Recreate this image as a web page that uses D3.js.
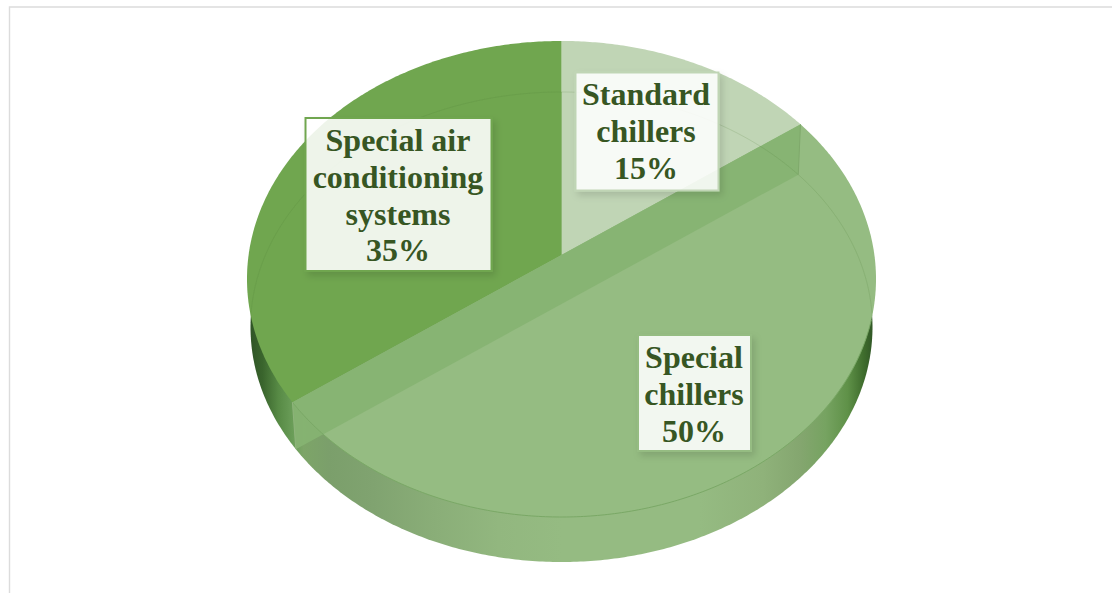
<!DOCTYPE html>
<html>
<head>
<meta charset="utf-8">
<script src="https://cdn.jsdelivr.net/npm/d3@7"></script>
<style>
html,body{margin:0;padding:0;background:#fff;overflow:hidden}
svg{display:block}
</style>
</head>
<body>
<svg id="chart" width="1112" height="593"></svg>
<script>
// ---- data ----
const categories = ["Standard chillers", "Special chillers", "Special air conditioning systems"];
const shares = [15, 50, 35];
const labelLines = [["Standard", "chillers"], ["Special", "chillers"], ["Special air", "conditioning", "systems"]];

// ---- styles and layout ----
const faceColors = ["#c0d5b5", "#95bc82", "#70a64f"];
const labelBoxes = [
  {x: 575.5, y: 72.5, w: 143, h: 118, cx: 646, base: 105},
  {x: 638, y: 335, w: 113, h: 116, cx: 694, base: 368},
  {x: 305.5, y: 118, w: 186, h: 153, cx: 398, base: 151}
];
const lineGap = 36.8;
const cx = 561.5;
// perspective projection of the pie's top and bottom discs
const topDisc = {A: 312.9, B: 209.9, C: 255, k: -0.1008};
const botDisc = {A: 309.5, B: 203, C: 304, k: -0.0979};

function project(d, a, r = 1) {
  const u = Math.sin(a) * r, v = -Math.cos(a) * r;
  const w = 1 + d.k * v;
  return [cx + d.A * u / w, (d.C + d.B * v) / w];
}
const line = d3.line();
function arcPts(d, a0, a1) {
  const n = Math.max(2, Math.ceil(Math.abs(a1 - a0) / 0.01));
  return d3.range(n + 1).map(i => project(d, a0 + (a1 - a0) * i / n));
}
const TAU = 2 * Math.PI;
const disc = d => line(arcPts(d, 0, TAU)) + "Z";

const pie = d3.pie().sort(null).startAngle(0).endAngle(TAU);
const arcs = pie(shares);
const svg = d3.select("#chart");
const defs = svg.append("defs");

// wall shading
const grad = defs.append("linearGradient").attr("id", "wall")
  .attr("gradientUnits", "userSpaceOnUse")
  .attr("x1", 247).attr("x2", 876).attr("y1", 0).attr("y2", 0);
[[0, "#2c5024"], [0.025, "#3a652d"], [0.05, "#578a45"], [0.075, "#6c9f5a"], [0.09, "#7da568"],
 [0.13, "#7b9f6b"], [0.2, "#80a370"], [0.3, "#8aae78"], [0.4, "#92b77f"], [0.5, "#95bb82"],
 [0.72, "#95bb82"], [0.82, "#8fb27a"], [0.88, "#84a66f"], [0.92, "#76a361"], [0.955, "#5f9148"],
 [0.98, "#3f6d2d"], [1, "#2c5024"]]
  .forEach(s => grad.append("stop").attr("offset", s[0]).attr("stop-color", s[1]));

// label shadow drawn only outside the translucent box
const f = defs.append("filter").attr("id", "shadow")
  .attr("x", "-20%").attr("y", "-20%").attr("width", "140%").attr("height", "140%");
f.append("feGaussianBlur").attr("in", "SourceAlpha").attr("stdDeviation", 3.5).attr("result", "b");
f.append("feOffset").attr("in", "b").attr("dx", 3).attr("dy", 4).attr("result", "o");
f.append("feFlood").attr("flood-color", "#000").attr("flood-opacity", 0.14).attr("result", "c");
f.append("feComposite").attr("in", "c").attr("in2", "o").attr("operator", "in").attr("result", "s");
f.append("feComposite").attr("in", "s").attr("in2", "SourceAlpha").attr("operator", "out").attr("result", "t");
const m = f.append("feMerge");
m.append("feMergeNode").attr("in", "t");
m.append("feMergeNode").attr("in", "SourceGraphic");

defs.append("clipPath").attr("id", "solid").call(c => {
  c.append("path").attr("d", disc(botDisc));
  c.append("path").attr("d", disc(topDisc));
});
defs.append("clipPath").attr("id", "topClip").append("path").attr("d", disc(topDisc));

// frame
svg.append("path").attr("d", "M1112 7H9.5V593").attr("fill", "none").attr("stroke", "#dcdcdc").attr("stroke-width", 1.4);

// side wall
svg.append("path").attr("d", disc(botDisc)).attr("fill", "url(#wall)");

// top faces
svg.append("g").selectAll("path").data(arcs).join("path")
  .attr("d", d => line([project(topDisc, 0, 0), ...arcPts(topDisc, d.startAngle, d.endAngle)]) + "Z")
  .attr("fill", (d, i) => faceColors[i]);

// cut wall of the half slice seen through its face
const half = arcs[1];
const bandPts = [project(topDisc, half.startAngle), project(topDisc, half.endAngle),
                 project(botDisc, half.endAngle), project(botDisc, half.startAngle)];
svg.append("path").attr("clip-path", "url(#solid)")
  .attr("d", line(bandPts) + "Z").attr("fill", "#86b372").attr("fill-opacity", 0.95);

// bottom outline seen through the pie, only where the reference shows it
svg.append("g").selectAll("path")
  .data([[half.endAngle, half.startAngle + TAU], [half.startAngle, half.startAngle + 1.2]])
  .join("path").attr("clip-path", "url(#topClip)")
  .attr("d", s => line(arcPts(botDisc, s[0], s[1])))
  .attr("fill", "none").attr("stroke", "#4f7f3a").attr("stroke-opacity", 0.22).attr("stroke-width", 0.8);

// front rim of the top face
svg.append("path")
  .attr("d", line(arcPts(topDisc, half.endAngle, half.startAngle + 0.9)))
  .attr("fill", "none").attr("stroke", "#7aa866").attr("stroke-width", 1);

// seams
[[half.startAngle, "#7fa96b"], [half.endAngle, "#8fb47c"]].forEach(s => {
  svg.append("path").attr("d", line([project(topDisc, s[0]), project(botDisc, s[0])]))
    .attr("stroke", s[1]).attr("stroke-width", 1).attr("fill", "none");
});

// labels
const g = svg.append("g").selectAll("g").data(arcs).join("g");
g.append("rect")
  .attr("x", (d, i) => labelBoxes[i].x).attr("y", (d, i) => labelBoxes[i].y)
  .attr("width", (d, i) => labelBoxes[i].w).attr("height", (d, i) => labelBoxes[i].h)
  .attr("fill", "#fff").attr("fill-opacity", 0.88)
  .attr("stroke", (d, i) => faceColors[i]).attr("stroke-width", 2)
  .attr("filter", "url(#shadow)");
g.each(function(d, i) {
  const lines = [...labelLines[i], shares[i] + "%"];
  const b = labelBoxes[i];
  d3.select(this).selectAll("text").data(lines).join("text")
    .attr("x", b.cx).attr("y", (t, j) => b.base + j * lineGap)
    .attr("text-anchor", "middle")
    .attr("font-family", "'Liberation Serif','Times New Roman',serif")
    .attr("font-weight", "bold").attr("font-size", 32)
    .attr("fill", "#375623")
    .text(t => t);
});
</script>
</body>
</html>
